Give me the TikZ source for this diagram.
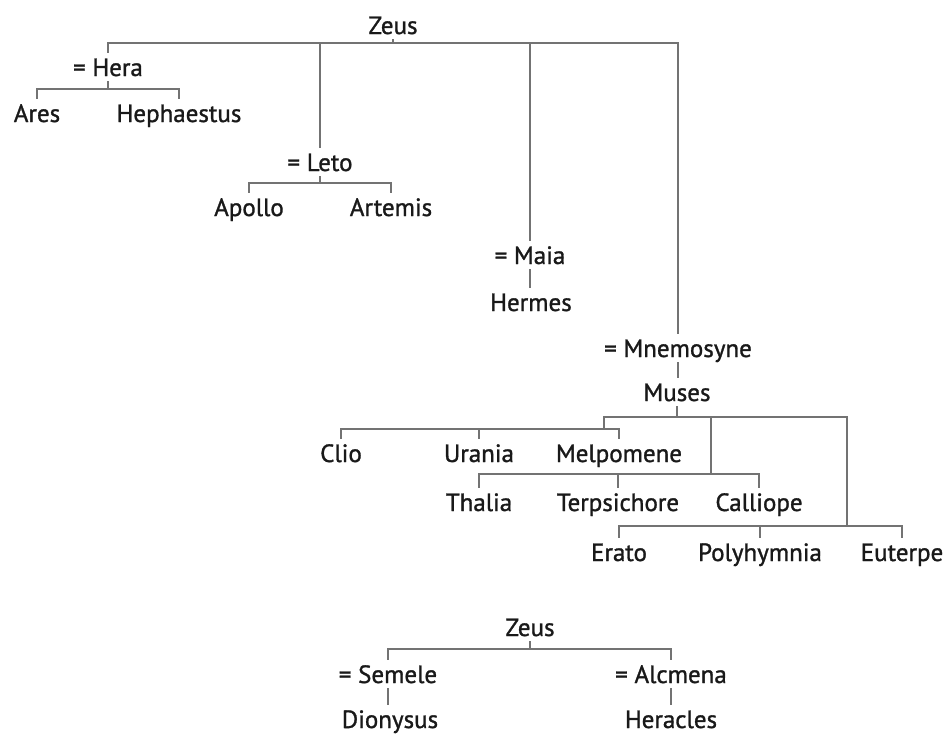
\documentclass[tikz,border=0pt]{standalone}
\usepackage{fontspec}
\setmainfont{PT Sans}[FakeBold=1.2]
\usepackage{xcolor}

\begin{document}
\begin{tikzpicture}[x=1pt,y=-1pt,
  god/.style={font=\fontsize{25}{28}\selectfont, text=black!90, inner xsep=1pt, inner ysep=5pt, text height=18pt, text depth=0pt},
  kin/.style={draw=black!55, line width=1.1pt}]
\useasboundingbox (0,0) rectangle (950,734);
% first family
\node[god] (zeus) at (393,25) {Zeus};
\node[god] (hera) at (108,67) {= Hera};
\node[god] (ares) at (37,113) {Ares};
\node[god] (hephaestus) at (179,113) {Hephaestus};
\node[god] (leto) at (320,162) {= Leto};
\node[god] (apollo) at (249,207) {Apollo};
\node[god] (artemis) at (391,207) {Artemis};
\node[god] (maia) at (530,255) {= Maia};
\node[god] (hermes) at (531,302) {Hermes};
\node[god] (mnemosyne) at (678,348) {= Mnemosyne};
\node[god] (muses) at (677,392) {Muses};
% the nine muses
\node[god] (clio) at (341,453) {Clio};
\node[god] (urania) at (479,453) {Urania};
\node[god] (melpomene) at (619,453) {Melpomene};
\node[god] (thalia) at (479,502) {Thalia};
\node[god] (terpsichore) at (618,502) {Terpsichore};
\node[god] (calliope) at (759,502) {Calliope};
\node[god] (erato) at (619,552) {Erato};
\node[god] (polyhymnia) at (760,552) {Polyhymnia};
\node[god] (euterpe) at (902,552) {Euterpe};
% second family
\node[god] (zeustwo) at (530,627) {Zeus};
\node[god] (semele) at (388,674) {= Semele};
\node[god] (alcmena) at (671,674) {= Alcmena};
\node[god] (dionysus) at (390,719) {Dionysus};
\node[god] (heracles) at (671,719) {Heracles};

\coordinate (zeusbar) at (393,43);
\coordinate (herabar) at (108,89);
\coordinate (letobar) at (320,183);
\coordinate (musesbar) at (677,417);
\coordinate (musea) at (604,429);
\coordinate (museb) at (711,474);
\coordinate (musec) at (847,526);
\coordinate (zeustwobar) at (530,649);

\draw[kin] (zeus.south) -- (zeusbar);
\draw[kin] (hera.north) |- (zeusbar) -| (mnemosyne.north);
\draw[kin] (leto.north) -- (leto.north |- zeusbar);
\draw[kin] (maia.north) -- (maia.north |- zeusbar);
\draw[kin] (hera.south) -- (herabar);
\draw[kin] (ares.north) |- (herabar) -| (hephaestus.north);
\draw[kin] (leto.south) -- (letobar);
\draw[kin] (apollo.north) |- (letobar) -| (artemis.north);
\draw[kin] (maia.south) -- (maia.south |- hermes.north);
\draw[kin] (mnemosyne.south) -- (mnemosyne.south |- muses.north);
% muses
\draw[kin] (muses.south) -- (musesbar);
\draw[kin] (musea) |- (musesbar) -| (musec);
\draw[kin] (museb) -- (museb |- musesbar);
\draw[kin] (clio.north) |- (musea) -| (melpomene.north);
\draw[kin] (urania.north) -- (urania.north |- musea);
\draw[kin] (thalia.north) |- (museb) -| (calliope.north);
\draw[kin] (terpsichore.north) -- (terpsichore.north |- museb);
\draw[kin] (erato.north) |- (musec) -| (euterpe.north);
\draw[kin] (polyhymnia.north) -- (polyhymnia.north |- musec);
% second tree
\draw[kin] (zeustwo.south) -- (zeustwobar);
\draw[kin] (semele.north) |- (zeustwobar) -| (alcmena.north);
\draw[kin] (semele.south) -- (semele.south |- dionysus.north);
\draw[kin] (alcmena.south) -- (alcmena.south |- heracles.north);
\end{tikzpicture}
\end{document}
